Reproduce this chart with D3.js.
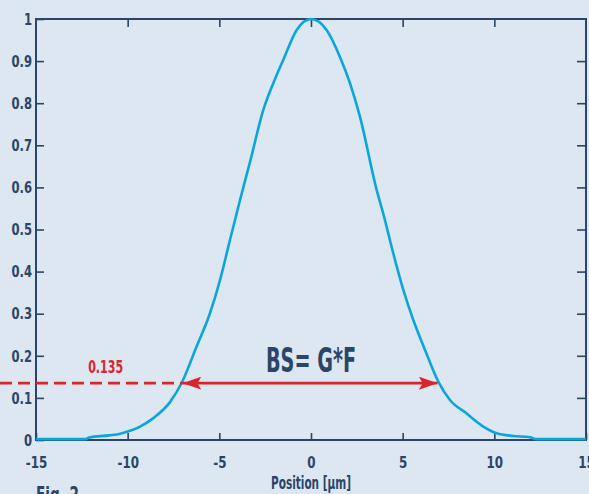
<!DOCTYPE html>
<html>
<head>
<meta charset="utf-8">
<script src="https://cdn.jsdelivr.net/npm/d3@7"></script>
<style>
  html, body { margin: 0; padding: 0; background: #dde7f1; }
  svg { display: block; }
  text { font-family: "DejaVu Sans Condensed", "DejaVu Sans", sans-serif; font-stretch: condensed; font-weight: bold; }
</style>
</head>
<body>
<svg id="svg"></svg>
<script>
// beam profile
var positions = [-15, -12.3, -12.1, -11, -10.4, -10, -9.4, -8.6, -7.69, -7.05, -6.24, -5.51, -4.96, -4.42, -3.87, -3.3,
                 -2.6, -2.06, -1.51, -0.78, 0, 0.85, 1.58, 2.13, 2.67, 3.58, 3.94, 4.49, 5.04, 5.58, 6.22, 6.95,
                 7.58, 8.49, 9.4, 10.13, 11.04, 11.95, 12.3, 15];
var intensity = [0.002, 0.002, 0.006, 0.011, 0.015, 0.02, 0.03, 0.052, 0.09, 0.136, 0.222, 0.301, 0.38, 0.475, 0.57, 0.665,
                 0.784, 0.847, 0.903, 0.974, 1.0, 0.974, 0.91, 0.847, 0.768, 0.594, 0.538, 0.443, 0.356, 0.285, 0.214, 0.138,
                 0.095, 0.063, 0.032, 0.016, 0.0095, 0.0064, 0.002, 0.002];

var xTicks = [-15, -10, -5, 0, 5, 10, 15];
var yTicks = [0, 0.1, 0.2, 0.3, 0.4, 0.5, 0.6, 0.7, 0.8, 0.9, 1];

var level      = 0.135;         // 1/e^2
var arrowEnds  = [-7.0, 6.9];
var levelLabel = "0.135";
var formula    = "BS= G*F";
var xTitle     = "Position [µm]";
var figLabel   = "Fig. 2";

var outer_width  = 589;
var outer_height = 494;
var margin = {top: 19, right: 3, bottom: 54, left: 36};
var width  = outer_width  - margin.left - margin.right;
var height = outer_height - margin.top  - margin.bottom;

var navy = "#2b4568",
    red  = "#d9262e",
    blue = "#0aa5da";

// squeeze text horizontally, the original uses a narrow DIN-like face
function condense(sel, f) {
    sel.each(function() {
        var w = this.getComputedTextLength();
        d3.select(this).attr("textLength", w * f).attr("lengthAdjust", "spacingAndGlyphs");
    });
}

var svg = d3.select("#svg")
    .attr("width", outer_width)
    .attr("height", outer_height);

var g = svg.append("g")
    .attr("transform", "translate(" + margin.left + "," + margin.top + ")");

var x = d3.scaleLinear().domain([-15, 15]).range([0, width]);
var y = d3.scaleLinear().domain([0, 1]).range([height, 0]);

var fmt = function(d) { return String(+d.toFixed(1)); };

// axes, ticks pointing inside the frame
var axL = g.append("g")
    .call(d3.axisLeft(y).tickValues(yTicks).tickSize(-8).tickPadding(4).tickFormat(fmt));
var axR = g.append("g")
    .attr("transform", "translate(" + width + ",0)")
    .call(d3.axisRight(y).tickValues(yTicks.slice(1, -1)).tickSize(-9).tickFormat(""));
var axT = g.append("g")
    .call(d3.axisTop(x).tickValues(xTicks.slice(1, -1)).tickSize(-8).tickFormat(""));
var axB = g.append("g")
    .attr("transform", "translate(0," + height + ")")
    .call(d3.axisBottom(x).tickValues(xTicks).tickSize(-7).tickPadding(13).tickFormat(fmt));

[axL, axR, axT, axB].forEach(function(a) {
    a.select(".domain").remove();
    a.selectAll("line").attr("stroke", navy).attr("stroke-width", 1.6);
    a.selectAll("text").attr("fill", navy).style("font-size", "16.5px");
});
axB.selectAll("text").attr("dy", "0.9em");
condense(axL.selectAll("text"), 0.78);
condense(axB.selectAll("text"), 0.8);

g.append("rect")
    .attr("width", width)
    .attr("height", height)
    .attr("fill", "none")
    .attr("stroke", navy)
    .attr("stroke-width", 2);

// profile
var line = d3.line()
    .x(function(d, i) { return x(positions[i]); })
    .y(function(d) { return y(d); })
    .curve(d3.curveMonotoneX);

g.append("path")
    .datum(intensity)
    .attr("d", line)
    .attr("fill", "none")
    .attr("stroke", blue)
    .attr("stroke-width", 2.6);

// 1/e^2 level, dashed from the page edge
g.append("line")
    .attr("x1", -margin.left)
    .attr("x2", x(arrowEnds[0]))
    .attr("y1", y(level))
    .attr("y2", y(level))
    .attr("stroke", red)
    .attr("stroke-width", 2.6)
    .attr("stroke-dasharray", "12,6");

var defs = svg.append("defs");
defs.append("marker")
    .attr("id", "head")
    .attr("viewBox", "0 0 20 14")
    .attr("refX", 20)
    .attr("refY", 7)
    .attr("markerUnits", "userSpaceOnUse")
    .attr("markerWidth", 19)
    .attr("markerHeight", 13)
    .attr("orient", "auto-start-reverse")
    .append("path")
    .attr("d", "M0,0 L20,7 L0,14 L4,7 Z")
    .attr("fill", red);

g.append("line")
    .attr("x1", x(arrowEnds[0]))
    .attr("x2", x(arrowEnds[1]))
    .attr("y1", y(level))
    .attr("y2", y(level))
    .attr("stroke", red)
    .attr("stroke-width", 2.6)
    .attr("marker-start", "url(#head)")
    .attr("marker-end", "url(#head)");

g.append("text")
    .attr("x", x(-11.2))
    .attr("y", y(level) - 10)
    .attr("text-anchor", "middle")
    .attr("fill", red)
    .attr("textLength", 35)
    .attr("lengthAdjust", "spacingAndGlyphs")
    .style("font-size", "17px")
    .text(levelLabel);

g.append("text")
    .attr("x", x(0))
    .attr("y", y(level) - 11)
    .attr("text-anchor", "middle")
    .attr("fill", navy)
    .attr("textLength", 90)
    .attr("lengthAdjust", "spacingAndGlyphs")
    .style("font-size", "33px")
    .text(formula);

g.append("text")
    .attr("x", x(0))
    .attr("y", height + 49)
    .attr("text-anchor", "middle")
    .attr("fill", navy)
    .attr("textLength", 80)
    .attr("lengthAdjust", "spacingAndGlyphs")
    .style("font-size", "17px")
    .text(xTitle);

svg.append("text")
    .attr("x", 36)
    .attr("y", 502)
    .attr("fill", navy)
    .attr("textLength", 43)
    .attr("lengthAdjust", "spacingAndGlyphs")
    .style("font-size", "21px")
    .text(figLabel);
</script>
</body>
</html>
